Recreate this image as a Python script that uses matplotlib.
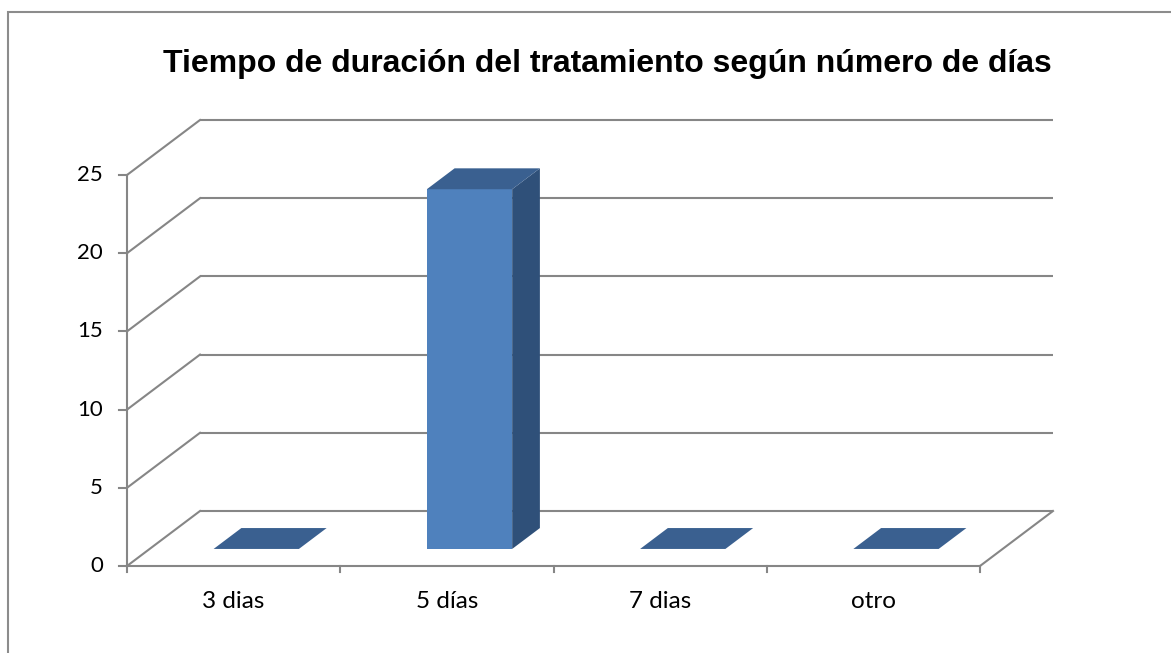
import matplotlib
matplotlib.use("Agg")
import matplotlib.pyplot as plt
from matplotlib.patches import Polygon, Rectangle

categories = ["3 dias", "5 días", "7 dias", "otro"]
values = [0, 23, 0, 0]
yticks = [0, 5, 10, 15, 20, 25]
title = "Tiempo de duración del tratamiento según número de días"

W, H = 1171, 653
fig = plt.figure(figsize=(W / 100, H / 100), dpi=100)
ax = fig.add_axes([0, 0, 1, 1])
ax.axis("off")

# pixel geometry of the oblique projection
X0, Y0 = 127, 566          # front-left origin (pixels, from top)
PX_CAT = 213.25            # pixels per category
PX_VAL = 15.64             # pixels per value unit
ax.set_xlim(-X0 / PX_CAT, (W - X0) / PX_CAT)
ax.set_ylim(-(H - Y0) / PX_VAL, Y0 / PX_VAL)
DX = 73 / PX_CAT           # depth offset in data units
DY = 55 / PX_VAL

def proj(x, v, z):
    return (x + z * DX, v + z * DY)

n = len(categories)
vmax = yticks[-1]
grid_c = "#868686"
lw = 1.5

# back wall gridlines and left wall diagonals
for t in yticks:
    a = proj(0, t, 1); b = proj(n, t, 1)
    ax.plot([a[0], b[0]], [a[1], b[1]], color=grid_c, lw=lw, zorder=1, solid_capstyle="butt")
    c = proj(0, t, 0)
    ax.plot([c[0], a[0]], [c[1], a[1]], color=grid_c, lw=lw, zorder=1)
    # tick marks
    ax.plot([c[0] - 8 / PX_CAT, c[0]], [t, t], color=grid_c, lw=lw, zorder=2)
    ax.text(c[0] - 24 / PX_CAT, t, str(t), ha="right", va="center",
            fontsize=16, family="Lato", color="black")

# vertical axis
ax.plot([0, 0], [0, vmax], color=grid_c, lw=lw, zorder=2)
# floor front edge and right edge
ax.plot([0, n], [0, 0], color=grid_c, lw=lw, zorder=2)
r0 = proj(n, 0, 0); r1 = proj(n, 0, 1)
ax.plot([r0[0], r1[0]], [r0[1], r1[1]], color=grid_c, lw=lw, zorder=1)
# x ticks
for i in range(n + 1):
    ax.plot([i, i], [0, -6 / PX_VAL], color=grid_c, lw=lw, zorder=2)
for i, c in enumerate(categories):
    ax.text(i + 0.5, -36 / PX_VAL, c, ha="center", va="center",
            fontsize=17.5, family="Lato", color="black")

# bars
front_c, top_c, side_c = "#4F81BD", "#3A6090", "#2F5079"
bw = 0.4
z0, z1 = 0.31, 0.69
for i, h in enumerate(values):
    xa, xb = i + 0.5 - bw / 2, i + 0.5 + bw / 2
    top = [proj(xa, h, z0), proj(xb, h, z0), proj(xb, h, z1), proj(xa, h, z1)]
    if h > 0:
        front = [proj(xa, 0, z0), proj(xb, 0, z0), proj(xb, h, z0), proj(xa, h, z0)]
        side = [proj(xb, 0, z0), proj(xb, 0, z1), proj(xb, h, z1), proj(xb, h, z0)]
        ax.add_patch(Polygon(side, closed=True, facecolor=side_c, edgecolor="none", zorder=3))
        ax.add_patch(Polygon(front, closed=True, facecolor=front_c, edgecolor="none", zorder=3))
    ax.add_patch(Polygon(top, closed=True, facecolor=top_c, edgecolor="none", zorder=3))

# title
fig.text(607 / W, 1 - 72 / H, title, ha="center", va="baseline",
         fontsize=23, fontweight="bold", family="Liberation Sans")

# chart border (left and top visible)
fig.add_artist(Rectangle((7.5 / W, -0.1), 1.2, 1 - 12.5 / H + 0.1,
                         transform=fig.transFigure, fill=False,
                         edgecolor="#8c8c8c", lw=1.5))

fig.savefig("out.png", dpi=100)
